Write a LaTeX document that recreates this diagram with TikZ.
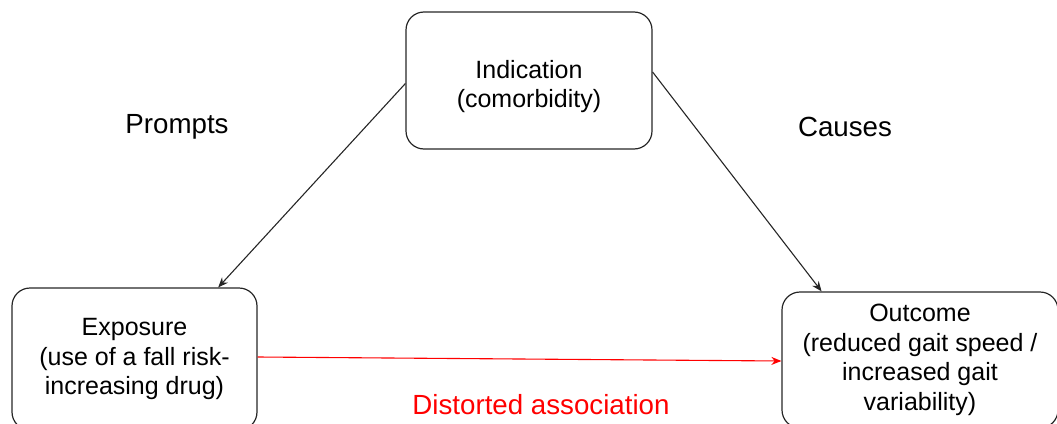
\documentclass[tikz,border=0pt]{standalone}
\usepackage{fontspec}
\setmainfont{Liberation Sans}
\usetikzlibrary{arrows.meta,calc}
\begin{document}
\begin{tikzpicture}[x=1pt,y=-1pt,
  box/.style={draw=black!85,line width=1.2pt,rounded corners=18pt,align=center,
    font=\fontsize{25}{29.5}\selectfont,inner sep=0pt},
  lbl/.style={font=\fontsize{27.7}{32}\selectfont,inner sep=0pt},
  arr/.style={draw=black!85,line width=1.1pt,-{Stealth[length=10pt,width=8pt]}},
  redarr/.style={draw=red,line width=1.1pt,-{Stealth[length=10pt,width=8pt]}}]
\clip (0,0) rectangle (1057,423);
\node[box,minimum width=246pt,minimum height=137pt] (ind) at (529,80.5) {\rule{0pt}{30pt}Indication\\(comorbidity)};
\node[box,minimum width=245pt,minimum height=142pt] (exp) at (134.5,359) {Exposure\\(use of a fall risk-\\increasing drug)};
\node[box,minimum width=276pt,minimum height=136pt] (out) at (920,360) {Outcome\\(reduced gait speed /\\increased gait\\variability)};
\node[lbl] (prompts) at (177,127) {Prompts};
\node[lbl] (causes) at (845,127) {Causes};
\node[lbl,text=red] (dist) at (541,405) {Distorted association};
\draw[arr] ($(ind.west)+(0,3)$) -- ($(exp.north west)!0.84!(exp.north east)$);
\draw[arr] ($(ind.east)+(0,-8.5)$) -- ($(out.north west)!0.145!(out.north east)$);
\draw[redarr] ($(exp.east)+(0,-2)$) -- ($(out.west)+(0,1)$);
\end{tikzpicture}
\end{document}
